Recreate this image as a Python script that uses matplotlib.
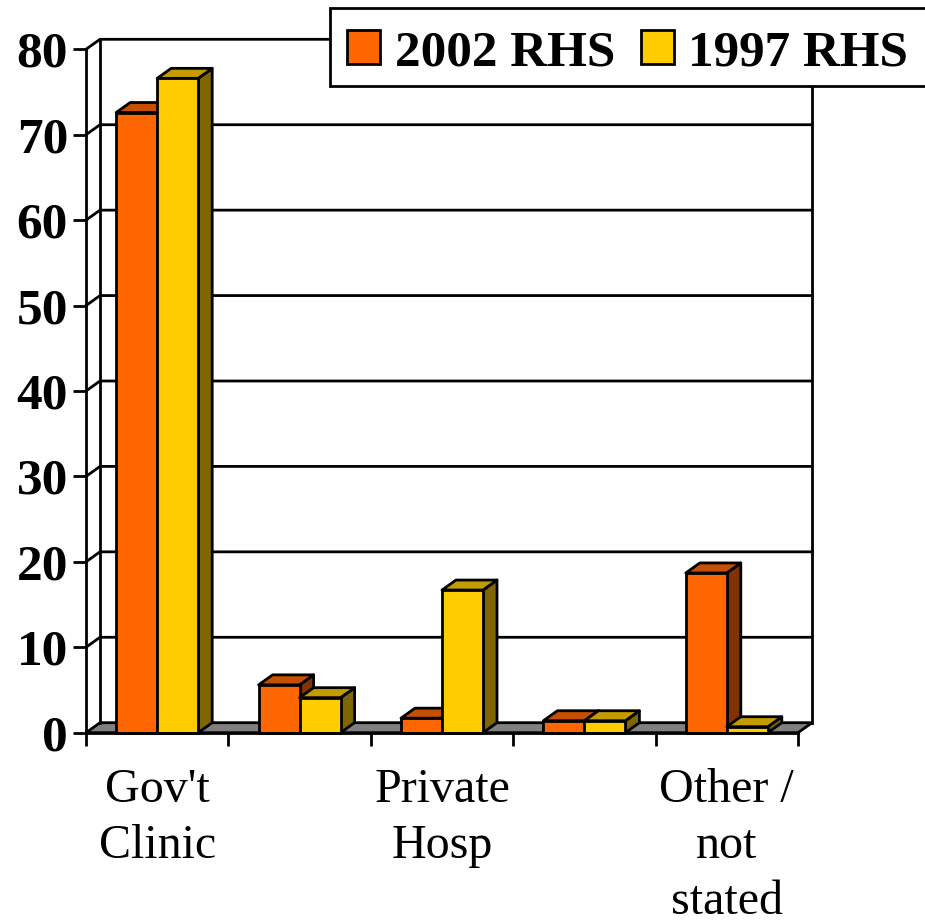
import matplotlib
matplotlib.use("Agg")
import matplotlib.pyplot as plt
from matplotlib.patches import Polygon, Patch, Rectangle

categories = ["Gov't\nClinic", "", "Private\nHosp", "", "Other /\nnot\nstated"]
series_2002 = [72.6, 5.6, 1.7, 1.4, 18.7]
series_1997 = [76.6, 4.1, 16.7, 1.4, 0.7]
y_ticks = [0, 10, 20, 30, 40, 50, 60, 70, 80]

ORANGE = ("#FF6600", "#C65000", "#803300")
YELLOW = ("#FFCC00", "#C49C00", "#806600")
GREY = "#808080"
LW = 2.0
W, H = 925, 924

plt.rcParams["font.family"] = ["Liberation Serif", "DejaVu Serif"]
fig = plt.figure(figsize=(W / 100, H / 100), dpi=100)
ax = fig.add_axes([86 / W, (H - 732.7) / H, 712 / W, 683.4 / H])
ax.set_xlim(0, 5)
ax.set_ylim(0, 80)

# depth of the pseudo-3D projection in data units
dx = 14 / 142.4
dy = 10 / 8.54
bw = 41 / 142.4


def poly(pts, fc, z):
    ax.add_patch(Polygon(pts, closed=True, facecolor=fc, edgecolor="black",
                         linewidth=LW, clip_on=False, zorder=z, joinstyle="round"))


# floor and walls
poly([(0, 0), (dx, dy), (5 + dx, dy), (5, 0)], GREY, 1)
for v in y_ticks[1:]:
    ax.plot([0, dx, 5 + dx], [v, v + dy, v + dy], color="black", lw=LW,
            clip_on=False, zorder=1, solid_joinstyle="round")
ax.plot([dx, dx], [dy, 80 + dy], color="black", lw=LW, clip_on=False, zorder=1)
ax.plot([5 + dx, 5 + dx], [dy, 80 + dy], color="black", lw=LW, clip_on=False, zorder=1)


def bar3d(x0, v, colors, z):
    x1 = x0 + bw
    poly([(x1, 0), (x1 + dx, dy), (x1 + dx, v + dy), (x1, v)], colors[2], z)
    poly([(x0, v), (x0 + dx, v + dy), (x1 + dx, v + dy), (x1, v)], colors[1], z)
    poly([(x0, 0), (x1, 0), (x1, v), (x0, v)], colors[0], z)


z = 3
for i, (a, b) in enumerate(zip(series_2002, series_1997)):
    bar3d(i + 0.5 - bw, a, ORANGE, z)
    bar3d(i + 0.5, b, YELLOW, z + 1)
    z += 2

# axes
for s in ("top", "right"):
    ax.spines[s].set_visible(False)
for s in ("left", "bottom"):
    ax.spines[s].set_linewidth(LW)
    ax.spines[s].set_zorder(50)
ax.patch.set_alpha(0)

ax.set_yticks(y_ticks)
ax.set_yticklabels([str(v) for v in y_ticks], fontsize=37, fontweight="bold")
ax.tick_params(axis="y", length=9.4, width=LW, pad=3.5)
ax.set_xticks(range(6))
ax.set_xticklabels([""] * 6)
ax.set_xticks([i + 0.5 for i in range(5)], minor=True)
ax.set_xticklabels(categories, minor=True, fontsize=34.6, linespacing=1.35)
ax.tick_params(axis="x", which="major", length=9.4, width=LW)
ax.tick_params(axis="x", which="minor", length=0, pad=25.5)

# legend: the frame runs off the right edge of the picture
fig.add_artist(Rectangle((330 / W, 1 - 86 / H), 640 / W, 78 / H, transform=fig.transFigure,
                         facecolor="white", edgecolor="black", linewidth=LW, zorder=90))
handles = [Patch(facecolor=ORANGE[0], edgecolor="black", linewidth=LW, label="2002 RHS"),
           Patch(facecolor=YELLOW[0], edgecolor="black", linewidth=LW, label="1997 RHS")]
leg = fig.legend(handles=handles, loc="upper left", bbox_to_anchor=(336 / W, 1 - 19 / H),
                 ncol=2, frameon=False, borderaxespad=0, borderpad=0.22,
                 handlelength=0.65, handleheight=0.65,
                 handletextpad=0.28, columnspacing=0.5,
                 prop={"size": 36.8, "weight": "bold"})
leg.set_zorder(100)

fig.savefig("out.png", dpi=100)
